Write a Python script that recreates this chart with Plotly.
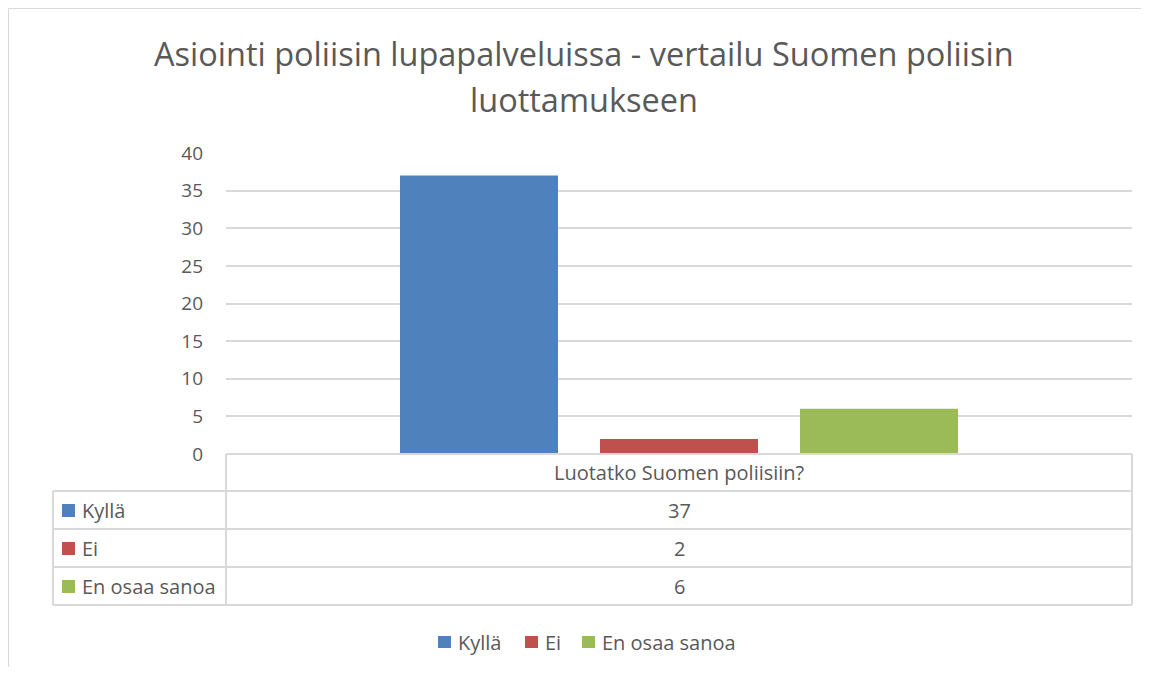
import plotly.graph_objects as go

categories = ["Luotatko Suomen poliisiin?"]
series_names = ["Kyllä", "Ei", "En osaa sanoa"]
series_values = [[37], [2], [6]]
colors = ["#4F81BD", "#C0504D", "#9BBB59"]
y_ticks = [0, 5, 10, 15, 20, 25, 30, 35, 40]
title_lines = ["Asiointi poliisin lupapalveluissa - vertailu Suomen poliisin", "luottamukseen"]

WIN_W, WIN_H = 1149, 675
OFF = 8  # page body margin offset
W, H = WIN_W - 2 * OFF, WIN_H - 2 * OFF
def px(x):
    return (x - OFF) / W
def py(y):
    return 1 - (y - OFF) / H

FONT = "Open Sans"
GRAY = "#595959"
LINE = "#d9d9d9"

fig = go.Figure()
for name, vals, c in zip(series_names, series_values, colors):
    fig.add_trace(go.Bar(x=categories, y=vals, name=name, marker_color=c,
                         marker_line_width=0, showlegend=False))

shapes = []
annotations = []
# outer chart border (left and top)
shapes.append(dict(type="line", xref="paper", yref="paper", x0=px(8.5), x1=px(8.5), y0=py(8.5), y1=0,
                   line=dict(color=LINE, width=1)))
shapes.append(dict(type="line", xref="paper", yref="paper", x0=px(8.5), x1=1, y0=py(8.5), y1=py(8.5),
                   line=dict(color=LINE, width=1)))

# title
for txt, yc in zip(title_lines, [53, 99]):
    annotations.append(dict(x=px(584), y=py(yc), xref="paper", yref="paper", text=txt, showarrow=False,
                            font=dict(family=FONT, size=32.5, color=GRAY), xanchor="center", yanchor="middle"))

# data table grid
tx0, tx1, lx0 = 226, 1132, 53
header_top, row_h = 454, 38
rows_y = [header_top + 37 + i * row_h for i in range(len(series_names) + 1)]  # 491, 529, 567, 605
lw = 2
def hline(y, x0, x1):
    shapes.append(dict(type="line", xref="paper", yref="paper", x0=px(x0), x1=px(x1), y0=py(y), y1=py(y),
                       line=dict(color=LINE, width=lw)))
def vline(x, y0, y1):
    shapes.append(dict(type="line", xref="paper", yref="paper", x0=px(x), x1=px(x), y0=py(y0), y1=py(y1),
                       line=dict(color=LINE, width=lw)))

hline(header_top, tx0, tx1)
for y in rows_y:
    hline(y, lx0, tx1)
vline(tx0, header_top, rows_y[-1])
vline(tx1, header_top, rows_y[-1])
vline(lx0, rows_y[0], rows_y[-1])

TS = 20
annotations.append(dict(x=px((tx0 + tx1) / 2), y=py((header_top + rows_y[0]) / 2), xref="paper", yref="paper",
                        text=categories[0], showarrow=False, font=dict(family=FONT, size=TS, color=GRAY),
                        xanchor="center", yanchor="middle"))
for i, (name, vals, c) in enumerate(zip(series_names, series_values, colors)):
    yc = (rows_y[i] + rows_y[i + 1]) / 2
    shapes.append(dict(type="rect", xref="paper", yref="paper", x0=px(62), x1=px(75), y0=py(yc - 6), y1=py(yc + 7),
                       fillcolor=c, line=dict(width=0)))
    annotations.append(dict(x=px(80), y=py(yc), xref="paper", yref="paper", text=name, showarrow=False,
                            font=dict(family=FONT, size=TS, color=GRAY), xanchor="left", yanchor="middle"))
    annotations.append(dict(x=px((tx0 + tx1) / 2), y=py(yc), xref="paper", yref="paper", text=str(vals[0]),
                            showarrow=False, font=dict(family=FONT, size=TS, color=GRAY),
                            xanchor="center", yanchor="middle"))

# bottom legend
legend_x = [438, 525, 582]
ly = 642
for name, c, lx in zip(series_names, colors, legend_x):
    shapes.append(dict(type="rect", xref="paper", yref="paper", x0=px(lx), x1=px(lx + 13), y0=py(ly - 6),
                       y1=py(ly + 6), fillcolor=c, line=dict(width=0)))
    annotations.append(dict(x=px(lx + 18), y=py(ly), xref="paper", yref="paper", text=name, showarrow=False,
                            font=dict(family=FONT, size=TS, color=GRAY), xanchor="left", yanchor="middle"))

fig.update_layout(
    width=W, height=H,
    margin=dict(l=0, r=0, t=0, b=0, autoexpand=False),
    paper_bgcolor="white", plot_bgcolor="white",
    barmode="group", bargap=1 - 600 / 906, bargroupgap=42 / 200,
    xaxis=dict(domain=[px(tx0), px(tx1)], range=[-0.5, 0.5], showticklabels=False, showline=False,
               showgrid=False, zeroline=False, fixedrange=True),
    yaxis=dict(domain=[py(454), py(153)], range=[0, 40], tickvals=y_ticks, showgrid=True,
               gridcolor=LINE, gridwidth=1.5, zeroline=False, showline=False, ticks="",
               ticklabelstandoff=22, tickfont=dict(family=FONT, size=19, color=GRAY)),
    showlegend=False,
    shapes=shapes, annotations=annotations,
)

fig.write_html("out.html", config={"displayModeBar": False})
